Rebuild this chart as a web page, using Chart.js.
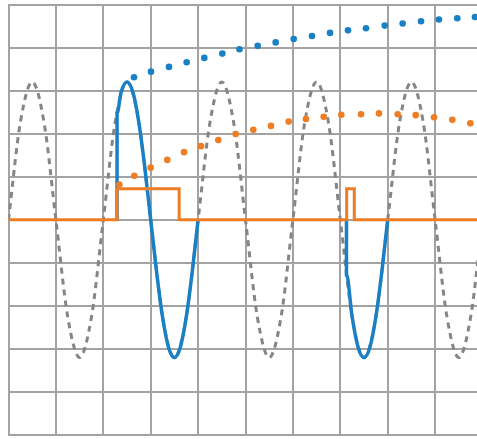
<!DOCTYPE html>
<html>
<head>
<meta charset="utf-8">
<script src="https://cdn.jsdelivr.net/npm/chart.js@4.4.1/dist/chart.umd.min.js"></script>
<style>
  html, body { margin: 0; padding: 0; background: #fff; }
  #wrap { width: 477px; height: 439px; overflow: hidden; position: relative; }
  canvas { display: block; }
</style>
</head>
<body>
<div id="wrap"><canvas id="scope" width="490" height="439"></canvas></div>
<script>
// reference wave (gray dashed), sampled every 0.25 division
const refX = [0, 0.25, 0.5, 0.75, 1, 1.25, 1.5, 1.75, 2, 2.25, 2.5, 2.75, 3, 3.25, 3.5, 3.75,
  4, 4.25, 4.5, 4.75, 5, 5.25, 5.5, 5.75, 6, 6.25, 6.5, 6.75, 7, 7.25, 7.5, 7.75,
  8, 8.25, 8.5, 8.75, 9, 9.25, 9.5, 9.75, 10];
const refY = [0, 2.26, 3.2, 2.26, 0, -2.26, -3.2, -2.26, 0, 2.26, 3.2, 2.26, 0, -2.26, -3.2, -2.26,
  0, 2.26, 3.2, 2.26, 0, -2.26, -3.2, -2.26, 0, 2.26, 3.2, 2.26, 0, -2.26, -3.2, -2.26,
  0, 2.26, 3.2, 2.26, 0, -2.26, -3.2, -2.26, 0];

// captured signal (blue), two gated windows
const burst1X = [2.29, 2.29, 2.375, 2.5, 2.625, 2.75, 2.875, 3.0, 3.125, 3.25, 3.375, 3.5, 3.625, 3.75, 3.875, 4.0];
const burst1Y = [0, 2.47, 2.96, 3.2, 2.96, 2.26, 1.22, 0, -1.22, -2.26, -2.96, -3.2, -2.96, -2.26, -1.22, 0];
const burst2X = [7.13, 7.13, 7.25, 7.375, 7.5, 7.625, 7.75, 7.875, 8.0];
const burst2Y = [0, -1.27, -2.26, -2.96, -3.2, -2.96, -2.26, -1.22, 0];

// trigger gate (orange step)
const gateX = [0, 2.29, 2.29, 3.6, 3.6, 7.135, 7.135, 7.295, 7.295, 10];
const gateY = [0, 0, 0.72, 0.72, 0, 0, 0.72, 0.72, 0, 0];

// blue dotted trace
const blueDotX = [2.648, 3.006, 3.386, 3.759, 4.131, 4.511, 4.873, 5.257, 5.637, 6.017,
  6.403, 6.783, 7.162, 7.542, 7.937, 8.316, 8.703, 9.082, 9.468, 9.842];
const blueDotY = [3.31, 3.44, 3.55, 3.66, 3.76, 3.86, 3.96, 4.04, 4.12, 4.2,
  4.27, 4.34, 4.4, 4.45, 4.51, 4.56, 4.61, 4.65, 4.68, 4.71];

// orange dotted trace
const orangeDotX = [2.338, 2.654, 3.0, 3.35, 3.703, 4.061, 4.426, 4.793, 5.165, 5.538, 5.911,
  6.276, 6.65, 7.021, 7.437, 7.816, 8.211, 8.591, 8.977, 9.363, 9.743];
const orangeDotY = [0.82, 1.02, 1.21, 1.39, 1.57, 1.71, 1.85, 1.99, 2.09, 2.18, 2.28,
  2.34, 2.39, 2.44, 2.45, 2.47, 2.45, 2.43, 2.38, 2.32, 2.24];

const BLUE = '#1a80c6';
const ORANGE = '#ee7d24';
const GRAY = '#858585';
const GRID = '#a3a3a3';

function toPoints(xs, ys) {
  return xs.map((x, i) => ({ x: x, y: ys[i] }));
}

function lineSet(xs, ys, color, width, extra) {
  return Object.assign({
    data: toPoints(xs, ys),
    borderColor: color,
    borderWidth: width,
    pointRadius: 0,
    fill: false
  }, extra || {});
}

function dotSet(xs, ys, color) {
  return {
    data: toPoints(xs, ys),
    showLine: false,
    pointRadius: 3.3,
    pointBackgroundColor: color,
    pointBorderWidth: 0,
    borderColor: color
  };
}

const ctx = document.getElementById('scope').getContext('2d');
new Chart(ctx, {
  type: 'line',
  data: {
    datasets: [
      lineSet(gateX, gateY, ORANGE, 3, { order: 0 }),
      Object.assign(dotSet(blueDotX, blueDotY, BLUE), { order: 1 }),
      Object.assign(dotSet(orangeDotX, orangeDotY, ORANGE), { order: 1 }),
      lineSet(burst1X, burst1Y, BLUE, 3.5, { cubicInterpolationMode: 'monotone', order: 2 }),
      lineSet(burst2X, burst2Y, BLUE, 3.5, { cubicInterpolationMode: 'monotone', order: 2 }),
      lineSet(refX, refY, GRAY, 3, { cubicInterpolationMode: 'monotone', borderDash: [6, 5], order: 3 })
    ]
  },
  options: {
    responsive: false,
    animation: false,
    devicePixelRatio: 1,
    layout: { padding: { left: 8.5, top: 4.5, right: 7.5, bottom: 2 } },
    plugins: { legend: { display: false }, tooltip: { enabled: false } },
    scales: {
      x: {
        type: 'linear',
        min: 0,
        max: 10,
        ticks: { display: false, stepSize: 1 },
        grid: { color: GRID, lineWidth: 2, drawTicks: false },
        border: { color: GRID, width: 2 }
      },
      y: {
        type: 'linear',
        min: -5,
        max: 5,
        ticks: { display: false, stepSize: 1 },
        grid: { color: GRID, lineWidth: 2, drawTicks: false },
        border: { color: GRID, width: 2 }
      }
    }
  }
});
</script>
</body>
</html>
